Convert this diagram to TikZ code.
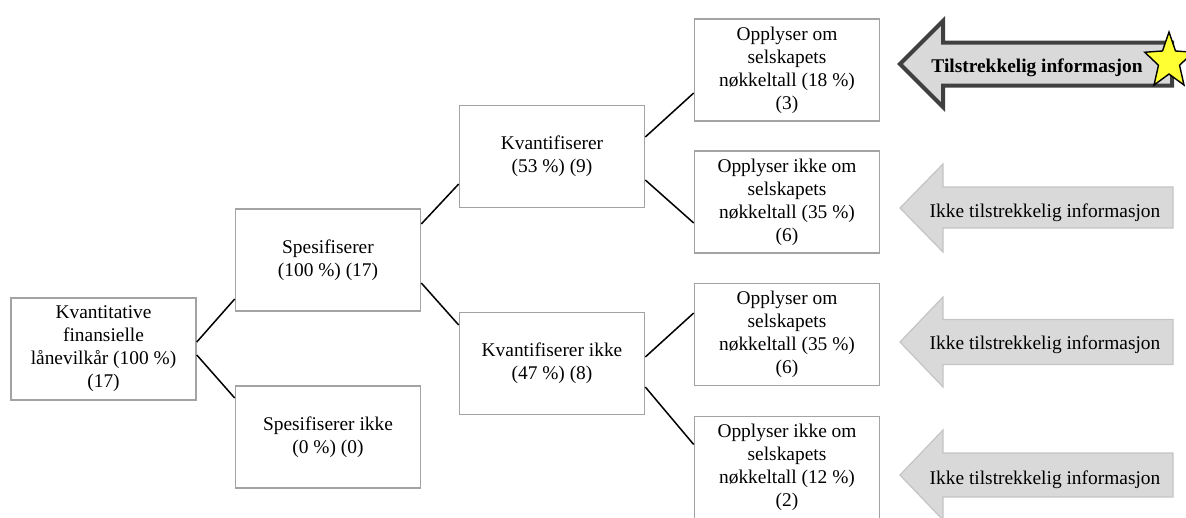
\documentclass[tikz,border=0pt]{standalone}
\usepackage{fontspec}
\setmainfont{Liberation Serif}
\usetikzlibrary{shapes.geometric}
\definecolor{boxgray}{HTML}{A3A3A3}
\definecolor{arrowfill}{HTML}{D9D9D9}
\definecolor{arrowline}{HTML}{C4C4C4}
\definecolor{darkline}{HTML}{404040}
\definecolor{staryellow}{HTML}{FFFF33}
\begin{document}
\begin{tikzpicture}[x=1pt,y=-1pt,
  box/.style={draw=boxgray, line width=1.6pt, minimum width=185pt, minimum height=102pt,
    align=center, inner sep=0pt, fill=white, font=\fontsize{19.4}{23}\selectfont},
  link/.style={draw=black, line width=1.5pt},
  lightarrow/.style={fill=arrowfill, draw=arrowline, line width=1.2pt, line join=miter},
  darkarrow/.style={fill=arrowfill, draw=darkline, line width=4pt, line join=miter},
  arrowtext/.style={anchor=base, inner sep=0pt, font=\fontsize{19.4}{23}\selectfont},
  starmark/.style={star, star points=5, star point ratio=2.3, minimum size=58.6pt, inner sep=0pt,
    fill=staryellow, draw=black, line width=1.4pt}
]
\useasboundingbox (0,0) rectangle (1186,517);

% tree boxes
\node[box] (root) at (103.5,349) {Kvantitative\\finansielle\\lånevilkår (100 \%)\\(17)};
\node[box] (spes) at (328,260) {Spesifiserer\\(100 \%) (17)};
\node[box] (spesikke) at (328,437) {Spesifiserer ikke\\(0 \%) (0)};
\node[box] (kv) at (552,156.5) {Kvantifiserer\\(53 \%) (9)};
\node[box] (kvikke) at (552,363.5) {Kvantifiserer ikke\\(47 \%) (8)};
\node[box] (a) at (787,70) {Opplyser om\\selskapets\\nøkkeltall (18 \%)\\(3)};
\node[box] (b) at (787,202) {Opplyser ikke om\\selskapets\\nøkkeltall (35 \%)\\(6)};
\node[box] (c) at (787,334.5) {Opplyser om\\selskapets\\nøkkeltall (35 \%)\\(6)};
\node[box] (d) at (787,467.5) {Opplyser ikke om\\selskapets\\nøkkeltall (12 \%)\\(2)};

% connectors
\draw[link] ([yshift=7pt]root.east) -- ([yshift=-39pt]spes.west);
\draw[link] ([yshift=-6pt]root.east) -- ([yshift=39pt]spesikke.west);
\draw[link] ([yshift=36pt]spes.east) -- ([yshift=-27.5pt]kv.west);
\draw[link] ([yshift=-23pt]spes.east) -- ([yshift=38.5pt]kvikke.west);
\draw[link] ([yshift=19.5pt]kv.east) -- ([yshift=-23pt]a.west);
\draw[link] ([yshift=-23.5pt]kv.east) -- ([yshift=-21pt]b.west);
\draw[link] ([yshift=6.5pt]kvikke.east) -- ([yshift=21.5pt]c.west);
\draw[link] ([yshift=-23.5pt]kvikke.east) -- ([yshift=23pt]d.west);

% info arrows
\draw[darkarrow] (900,64) -- (943,21) -- (943,42.5) -- (1172,42.5) -- (1172,85.5) -- (943,85.5) -- (943,107) -- cycle;
\draw[lightarrow] (900,208) -- (943,164) -- (943,187) -- (1173,187) -- (1173,228) -- (943,228) -- (943,252) -- cycle;
\draw[lightarrow] (900,342) -- (943,297) -- (943,319.5) -- (1173,319.5) -- (1173,364.5) -- (943,364.5) -- (943,387) -- cycle;
\draw[lightarrow] (900,475) -- (943,430) -- (943,453) -- (1173,453) -- (1173,497) -- (943,497) -- (943,520) -- cycle;

\node[arrowtext] (t1) at (1037,72) {\textbf{Tilstrekkelig informasjon}};
\node[arrowtext] (t2) at (1045,217) {Ikke tilstrekkelig informasjon};
\node[arrowtext] (t3) at (1045,349) {Ikke tilstrekkelig informasjon};
\node[arrowtext] (t4) at (1045,484) {Ikke tilstrekkelig informasjon};

\begin{scope}[shift={(1169,61.3)}, xscale=0.87]
  \node[starmark, transform shape] (star) at (0,0) {};
\end{scope}
\end{tikzpicture}
\end{document}
